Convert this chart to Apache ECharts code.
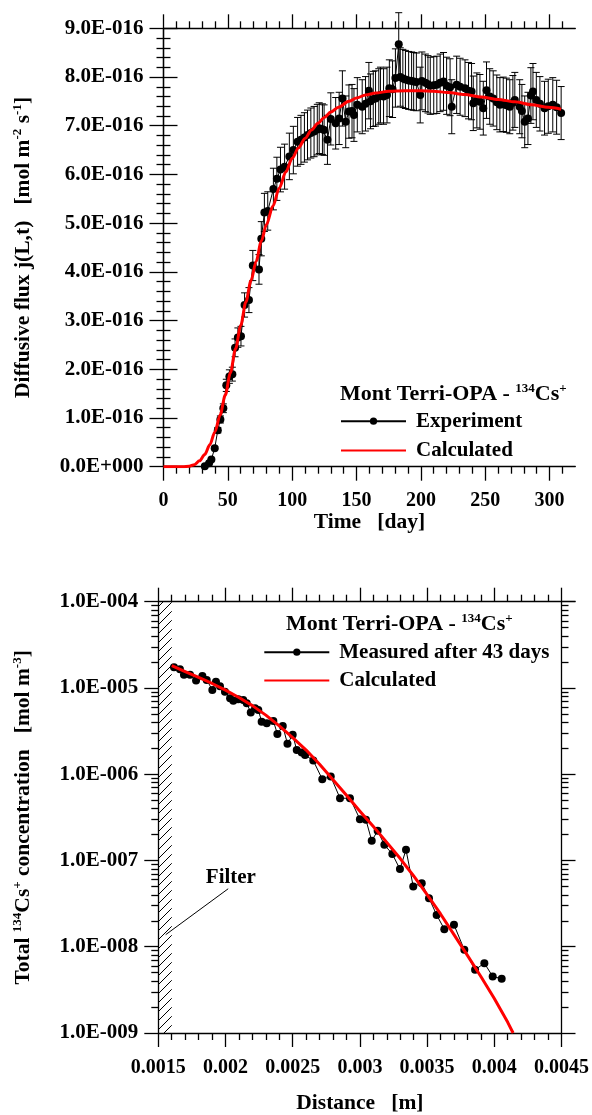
<!DOCTYPE html>
<html>
<head>
<meta charset="utf-8">
<script src="https://cdn.jsdelivr.net/npm/echarts@6/dist/echarts.min.js"></script>
<style>
html,body{margin:0;padding:0;background:#fff;}
#chart{width:592px;height:1115px;}
</style>
</head>
<body>
<div id="chart"></div>
<script>
// ---------------- DATA ----------------
// Top chart: diffusive flux (units of 1E-016 mol m-2 s-1) vs time (day)
const expTime = [32.1,35.4,37.2,39.8,42.2,44.2,46.5,48.8,51.2,53.5,55.6,57.8,60.2,63.0,66.4,69.4,74.2,76.0,78.4,81.0,
  85.4,88.1,90.9,94.1,97.8,100.9,104.2,106.8,109.5,111.9,114.5,117.0,119.5,121.0,123.5,124.8,127.4,130.0,133.8,136.5,
  139.0,141.6,144.1,146.5,148.0,150.6,154.4,157.0,159.6,160.9,163.0,164.8,167.3,168.6,171.0,173.7,175.5,178.0,180.2,182.8,
  184.0,186.0,188.0,190.5,192.8,194.4,196.5,199.5,200.8,203.5,205.5,207.3,210.0,212.4,215.0,217.6,220.0,222.7,224.0,227.8,
  230.5,234.3,237.0,239.4,240.7,243.5,245.9,248.5,251.0,253.5,256.2,259.0,261.4,264.0,266.5,269.1,271.5,273.0,276.8,278.5,
  280.7,283.2,285.5,287.1,289.7,292.5,296.1,299.0,302.5,305.5,309.0];
const expFlux = [0.01,0.07,0.15,0.38,0.75,0.97,1.20,1.67,1.85,1.90,2.44,2.65,2.68,3.32,3.42,4.13,4.05,4.68,5.22,5.25,
  5.70,5.91,6.10,6.16,6.37,6.50,6.67,6.71,6.76,6.81,6.85,6.88,6.92,6.95,6.93,6.91,6.71,7.14,7.05,7.15,
  7.56,7.08,7.29,7.30,7.22,7.43,7.39,7.45,7.72,7.50,7.55,7.56,7.60,7.63,7.60,7.63,7.77,7.75,7.98,8.67,
  8.00,7.97,7.95,7.93,7.92,7.91,7.90,7.63,7.92,7.88,7.85,7.82,7.83,7.84,7.88,7.91,7.82,7.79,7.39,7.84,
  7.80,7.77,7.72,7.70,7.46,7.52,7.49,7.36,7.73,7.60,7.56,7.48,7.43,7.44,7.42,7.39,7.47,7.53,7.39,7.30,
  7.08,7.15,7.62,7.70,7.53,7.45,7.36,7.40,7.43,7.38,7.26];
const expRelError = 0.075; // relative measurement uncertainty shown by the error bars

const calcTime = [0,15,20,24,28,32,36,40,44,48,52,56,60,64,68,72,76,80,85,90,95,100,105,110,115,120,125,130,136,144,
  150,157,165,175,188,200,210,221,234,247,260,273,286,299,309];
const calcFlux = [0,0,0.01,0.04,0.12,0.25,0.45,0.72,1.06,1.47,1.93,2.42,2.90,3.38,3.82,4.22,4.63,4.97,5.35,5.72,
  6.05,6.33,6.55,6.74,6.91,7.05,7.17,7.28,7.38,7.50,7.57,7.63,7.67,7.71,7.72,7.72,7.71,7.68,7.64,7.59,
  7.54,7.49,7.43,7.38,7.34];

const timeMajorTicks = [0,50,100,150,200,250,300];
const timeMinorTicks = [10,20,30,40,60,70,80,90,110,120,130,140,160,170,180,190,210,220,230,240,260,270,280,290,310];

// Bottom chart: total 134Cs+ concentration (mol m-3) vs distance (m)
const measDist = [0.001617,0.001661,0.001691,0.001736,0.001781,0.001828,0.00186,0.001902,0.001929,0.001959,
  0.001996,0.002034,0.002058,0.002095,0.002132,0.002158,0.002188,0.00222,0.002244,0.002269,
  0.002307,0.002356,0.002386,0.002426,0.002461,0.0025,0.00253,0.002567,0.002592,0.002653,
  0.00272,0.002783,0.002852,0.002926,0.003,0.003045,0.003088,0.003132,0.003182,0.003241,
  0.003298,0.003343,0.003397,0.00346,0.003514,0.003571,0.003628,0.0037,0.003777,0.003857,
  0.003926,0.003988,0.004055];
const measConc = [1.74e-5,1.65e-5,1.42e-5,1.42e-5,1.22e-5,1.38e-5,1.24e-5,9.5e-6,1.18e-5,1.05e-5,
  9.06e-6,7.6e-6,7.13e-6,7.4e-6,7.26e-6,6.65e-6,5.18e-6,5.82e-6,5.56e-6,4.07e-6,
  3.9e-6,4.15e-6,2.93e-6,3.63e-6,2.25e-6,2.86e-6,1.91e-6,1.78e-6,1.67e-6,1.44e-6,
  8.75e-7,9.4e-7,5.27e-7,5.27e-7,3.01e-7,2.96e-7,1.69e-7,2.21e-7,1.52e-7,1.19e-7,
  7.94e-8,1.33e-7,4.99e-8,5.46e-8,3.66e-8,2.34e-8,1.6e-8,1.8e-8,9.2e-9,5.4e-9,
  6.45e-9,4.53e-9,4.25e-9];

const calcDist = [0.0016,0.0017,0.0018,0.0019,0.0020,0.0021,0.0022,0.0023,0.0024,0.0025,0.0026,0.0027,0.0028,
  0.0029,0.0030,0.0031,0.0032,0.0033,0.0034,0.0035,0.0036,0.0037,0.0038,0.0039,0.0040,0.0041,0.00414];
const calcConc = [1.815e-5,1.549e-5,1.324e-5,1.127e-5,9.44e-6,7.76e-6,6.24e-6,4.84e-6,3.63e-6,2.66e-6,1.905e-6,1.303e-6,8.61e-7,
  5.69e-7,3.72e-7,2.47e-7,1.622e-7,1.052e-7,6.61e-8,4.03e-8,2.40e-8,1.38e-8,7.94e-9,4.52e-9,2.51e-9,1.33e-9,1.0e-9];

const concMinorTicks = [];
[-9,-8,-7,-6,-5].forEach(function(e){ for (let m=2;m<=9;m++) concMinorTicks.push(m*Math.pow(10,e)); });

const filterRange = [0.0015, 0.0016];          // filter zone (m)
const filterPointer = [[0.001555, 1.38e-8], [0.00202, 4.7e-8]];
const filterLabelAt = [0.00204, 6.4e-8];

// ---------------- STYLE ----------------
const FONT = '"Liberation Serif", "Times New Roman", serif';
const AX = {color:'#000', width:1.3};
function bold(size){ return {fontFamily:FONT, fontWeight:'bold', fontSize:size, color:'#000'}; }
function richText(size, supSize, lh){
  return {lineHeight:lh, rich:{
    n:Object.assign(bold(size), {lineHeight:lh}),
    s:Object.assign(bold(supSize), {lineHeight:lh, verticalAlign:'top'})
  }};
}

// hatch pattern for the filter
const hatch = document.createElement('canvas');
hatch.width = 9; hatch.height = 9;
(function(){
  const c = hatch.getContext('2d');
  c.strokeStyle = '#000'; c.lineWidth = 1;
  c.beginPath();
  c.moveTo(-1,10); c.lineTo(10,-1);
  c.moveTo(-1,1); c.lineTo(1,-1);
  c.moveTo(8,10); c.lineTo(10,8);
  c.stroke();
})();

const errData = expTime.map(function(t,i){
  const v = expFlux[i];
  return [t, v, v*(1-expRelError), v*(1+expRelError)];
});

function fluxLabel(v){ return v === 0 ? '0.0E+000' : v.toFixed(1) + 'E-016'; }
function concLabel(v){
  const e = Math.round(Math.log10(v));
  return '1.0E' + (e<0?'-':'+') + String(Math.abs(e)).padStart(3,'0');
}

function axisBase(extra){
  return Object.assign({
    type:'value', axisLine:{show:true, lineStyle:AX}, axisTick:{show:true, length:14, lineStyle:AX},
    splitLine:{show:false}, axisLabel:{show:false}
  }, extra);
}

const legendText = Object.assign(bold(21), {lineHeight:20, padding:[0,0,0,5]});

const chart = echarts.init(document.getElementById('chart'), null, {renderer:'canvas'});
const option = {
  animation:false,
  backgroundColor:'#fff',
  textStyle:{fontFamily:FONT},
  title:[
    {left:340, top:382, padding:0, text:'{n|Mont Terri-OPA - }{s|134}{n|Cs}{s|+}', textStyle:richText(22, 13, 24)},
    {left:286, top:612, padding:0, text:'{n|Mont Terri-OPA - }{s|134}{n|Cs}{s|+}', textStyle:richText(22, 13, 24)}
  ],
  legend:[
    {data:['Experiment', {name:'Calculated', itemStyle:{opacity:0}}], orient:'vertical', left:340, top:410.7, padding:0,
     itemWidth:65, itemHeight:9, itemGap:8.3, textStyle:legendText},
    {data:['Measured after 43 days', {name:'Calculated', itemStyle:{opacity:0}}], orient:'vertical', left:263.3, top:641.7, padding:0,
     itemWidth:65, itemHeight:9, itemGap:7.3, textStyle:legendText}
  ],
  grid:[
    {left:163.5, top:28.3, width:411.8, height:438.4, containLabel:false},
    {left:158.3, top:601.7, width:403.4, height:431.6, containLabel:false}
  ],
  xAxis:[
    axisBase({gridIndex:0, min:0, max:320, position:'bottom',
      axisTick:{show:true, length:14, lineStyle:AX, customValues:timeMajorTicks},
      axisLabel:Object.assign({show:true, customValues:timeMajorTicks, margin:24}, bold(20)),
      name:'Time   [day]', nameLocation:'middle', nameGap:39, nameTextStyle:bold(21.5)}),
    axisBase({gridIndex:0, min:0, max:320, position:'bottom', axisLine:{show:false},
      axisTick:{show:true, length:7, lineStyle:AX, customValues:timeMinorTicks}}),
    axisBase({gridIndex:0, min:0, max:320, position:'top',
      axisTick:{show:true, length:14, lineStyle:AX, customValues:timeMajorTicks}}),
    axisBase({gridIndex:0, min:0, max:320, position:'top', axisLine:{show:false},
      axisTick:{show:true, length:7, lineStyle:AX, customValues:timeMinorTicks}}),
    axisBase({gridIndex:1, min:0.0015, max:0.0045, interval:0.0005, position:'bottom',
      minorTick:{show:true, splitNumber:5, length:7, lineStyle:AX},
      axisLabel:Object.assign({show:true, margin:25}, bold(20)),
      name:'Distance   [m]', nameLocation:'middle', nameGap:59, nameTextStyle:bold(21.5)}),
    axisBase({gridIndex:1, min:0.0015, max:0.0045, interval:0.0005, position:'top',
      minorTick:{show:true, splitNumber:5, length:7, lineStyle:AX}})
  ],
  yAxis:[
    axisBase({gridIndex:0, min:0, max:9, interval:1, position:'left',
      minorTick:{show:true, splitNumber:5, length:7, lineStyle:AX},
      axisLabel:Object.assign({show:true, margin:20, formatter:fluxLabel}, bold(21)),
      name:'{n|Diffusive flux j(L,t)   [mol m}{s|-2}{n| s}{s|-1}{n|]}', nameLocation:'middle', nameGap:128,
      nameTextStyle:richText(21.5, 13, 24)}),
    axisBase({gridIndex:0, min:0, max:9, interval:1, position:'right',
      minorTick:{show:true, splitNumber:5, length:7, lineStyle:AX}}),
    axisBase({gridIndex:1, type:'log', logBase:10, min:1e-9, max:1e-4, position:'left',
      axisLabel:Object.assign({show:true, margin:20, formatter:concLabel}, bold(21)),
      name:'{n|Total }{s|134}{n|Cs}{s|+}{n| concentration   [mol m}{s|-3}{n|]}', nameLocation:'middle', nameGap:123,
      nameTextStyle:richText(21.5, 13, 24)}),
    axisBase({gridIndex:1, type:'log', logBase:10, min:1e-9, max:1e-4, position:'right'}),
    axisBase({gridIndex:1, type:'log', logBase:10, min:1e-9, max:1e-4, position:'left', axisLine:{show:false},
      axisTick:{show:true, length:7, lineStyle:AX, customValues:concMinorTicks}}),
    axisBase({gridIndex:1, type:'log', logBase:10, min:1e-9, max:1e-4, position:'right', axisLine:{show:false},
      axisTick:{show:true, length:7, lineStyle:AX, customValues:concMinorTicks}})
  ],
  series:[
    {type:'custom', name:'errbar', xAxisIndex:0, yAxisIndex:0, z:2, data:errData,
     encode:{x:0, y:[1,2,3]},
     renderItem:function(params, api){
       const x = api.value(0), lo = api.value(2), hi = api.value(3);
       const p = api.coord([x, hi]), q = api.coord([x, lo]);
       const cap = 3.5;
       const st = {stroke:'#000', lineWidth:1};
       return {type:'group', children:[
         {type:'line', shape:{x1:p[0], y1:p[1], x2:q[0], y2:q[1]}, style:st},
         {type:'line', shape:{x1:p[0]-cap, y1:p[1], x2:p[0]+cap, y2:p[1]}, style:st},
         {type:'line', shape:{x1:q[0]-cap, y1:q[1], x2:q[0]+cap, y2:q[1]}, style:st}
       ]};
     }},
    {type:'line', name:'Experiment', xAxisIndex:0, yAxisIndex:0, z:3,
     data:expTime.map(function(t,i){return [t, expFlux[i]];}),
     symbol:'circle', symbolSize:8, showSymbol:true, itemStyle:{color:'#000'}, lineStyle:{color:'#000', width:1}},
    {type:'line', name:'Calculated', xAxisIndex:0, yAxisIndex:0, z:4,
     data:calcTime.map(function(t,i){return [t, calcFlux[i]];}),
     symbol:'none', smooth:0.3, smoothMonotone:'x', itemStyle:{color:'#ff0000'}, lineStyle:{color:'#ff0000', width:3}},
    {type:'line', name:'Measured after 43 days', xAxisIndex:4, yAxisIndex:2, z:3,
     data:measDist.map(function(d,i){return [d, measConc[i]];}),
     symbol:'circle', symbolSize:8, itemStyle:{color:'#000'}, lineStyle:{color:'#000', width:1},
     markArea:{silent:true, itemStyle:{color:{image:hatch, repeat:'repeat'}, borderWidth:0},
       data:[[{xAxis:filterRange[0]},{xAxis:filterRange[1]}]]},
     markLine:{silent:true, symbol:['none','none'], lineStyle:{color:'#000', width:1, type:'solid'}, label:{show:false},
       data:[[{coord:filterPointer[0]},{coord:filterPointer[1]}]]},
     markPoint:{silent:true, symbol:'circle', symbolSize:0,
       label:Object.assign({show:true, position:'inside', formatter:'Filter'}, bold(21)),
       data:[{coord:filterLabelAt}]}},
    {type:'line', name:'Calculated', xAxisIndex:4, yAxisIndex:2, z:4,
     data:calcDist.map(function(d,i){return [d, calcConc[i]];}),
     symbol:'none', smooth:false, itemStyle:{color:'#ff0000'}, lineStyle:{color:'#ff0000', width:3, join:'round'}}
  ]
};
chart.setOption(option);
</script>
</body>
</html>
